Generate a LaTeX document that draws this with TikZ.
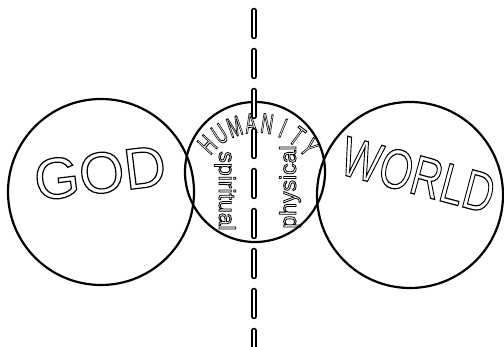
\documentclass[tikz,border=0pt]{standalone}
\usepackage{fontspec}
\setmainfont{Liberation Sans}
% outlined letters: stroke the glyphs instead of filling them
\newcommand{\hollow}[2]{\special{pdf:literal #1 w 1 Tr}#2\special{pdf:literal 0 Tr}}

\begin{document}
\begin{tikzpicture}[x=1pt,y=1pt,
  ring/.style={draw=black, line width=2.2pt},
  bigword/.style={inner sep=0pt, font=\fontsize{#1}{#1}\selectfont},
  smallword/.style={inner sep=0pt, font=\fontsize{23}{23}\selectfont},
  letter/.style={inner sep=0pt, font=\fontsize{28}{28}\selectfont},
  divide/.style={line width=5.5pt, line cap=round, dash pattern=on 26pt off 14pt}]
\useasboundingbox (0,0) rectangle (504,347);

%%%%%%%%% three circles
\draw[ring] (101,155) circle (93);   % GOD
\draw[ring] (410,152) circle (93);   % WORLD
\draw[ring] (255,175) circle (70);   % HUMANITY

%%%%%%%%% words
\node[bigword=58, rotate=7] (god) at (100,174) {\hollow{1.2}{GOD}};
\node[bigword=56, rotate=-15] (world) at (418,172) {\scalebox{0.75}[1]{\hollow{1.2}{WORLD}}};

%%% humanity along the arc
\begin{scope}[shift={(257,156)}]
\foreach \ch [count=\i] in {H,U,M,A,N,I,T,Y}
  \node[letter, rotate={137-(\i-1)*13.9-90}] (hum-\i) at ({137-(\i-1)*13.9}:68)
    {\scalebox{0.6}[1]{\hollow{0.9}{\ch}}};
\end{scope}

\node[smallword, rotate=-90] (spirit) at (225,156) {\hollow{0.8}{spiritual}};
\node[smallword, rotate=90] (body) at (290,160) {\hollow{0.8}{physical}};

%%%%%%%%% dividing line
\coordinate (dtop) at (254,336.5);
\coordinate (dbot) at (254,-12);
\draw[divide, black] (dtop) -- (dbot);
\draw[divide, white, line width=2.4pt] (dtop) -- (dbot);

\end{tikzpicture}
\end{document}
